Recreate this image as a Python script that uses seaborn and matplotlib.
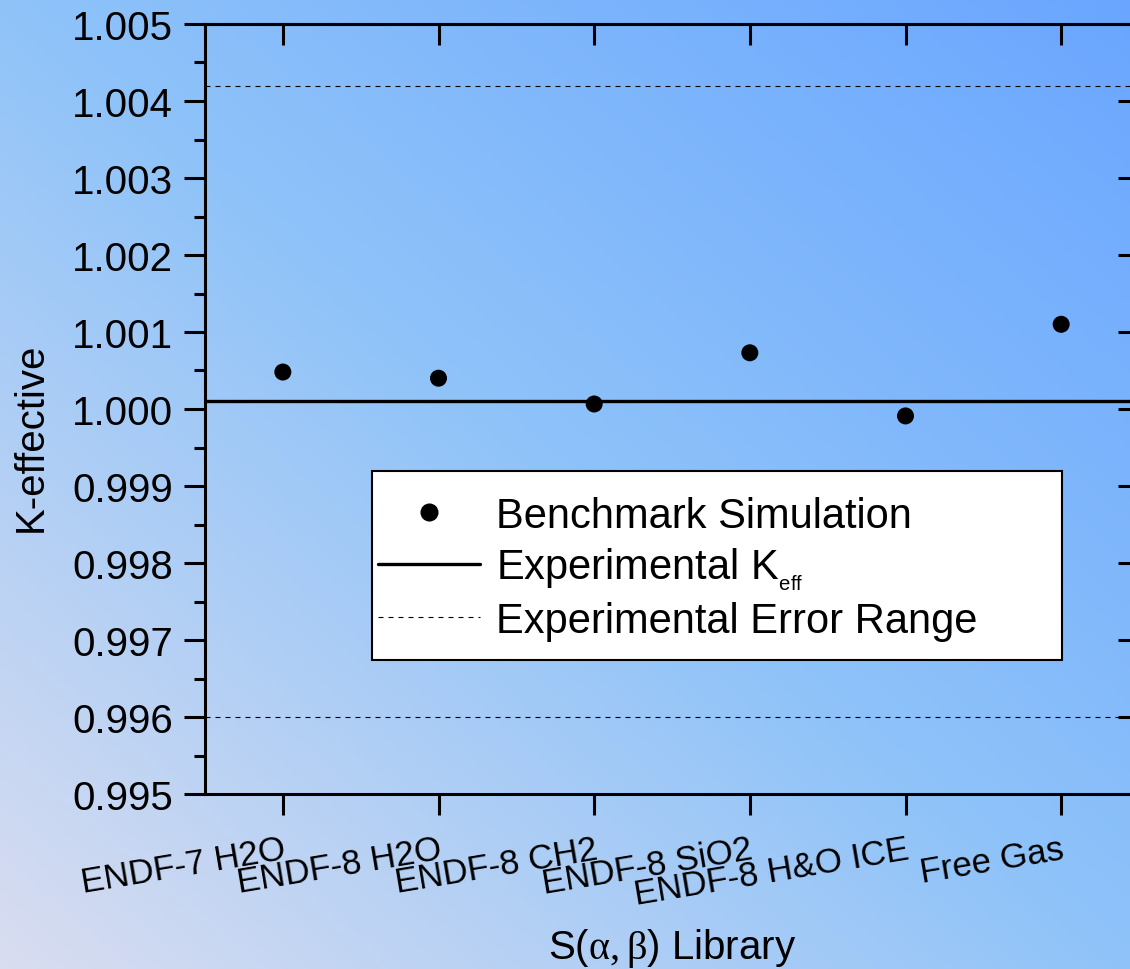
import numpy as np
import pandas as pd
import matplotlib
matplotlib.use("Agg")
import matplotlib.pyplot as plt
from matplotlib.colors import LinearSegmentedColormap
from matplotlib.lines import Line2D
from matplotlib.patches import Rectangle
import seaborn as sns

# ---- data ----
libraries = ["ENDF-7 H2O", "ENDF-8 H2O", "ENDF-8 CH2", "ENDF-8 SiO2",
             "ENDF-8 H&O ICE", "Free Gas"]
keff = [1.00048, 1.00040, 1.000065, 1.00073, 0.99991, 1.00110]
exp_keff = 1.0001
exp_err = 0.0041
yticks = [0.995, 0.996, 0.997, 0.998, 0.999, 1.000, 1.001, 1.002, 1.003, 1.004, 1.005]
ytick_labels = ["0.995", "0.996", "0.997", "0.998", "0.999", "1.000",
                "1.001", "1.002", "1.003", "1.004", "1.005"]
legend_labels = ["Benchmark Simulation", r"Experimental K$_{_\mathregular{eff}}$",
                 "Experimental Error Range"]

sns.set_theme(style="ticks")
plt.rcParams["font.family"] = ["Liberation Sans", "DejaVu Sans"]
plt.rcParams["mathtext.fontset"] = "custom"
plt.rcParams["mathtext.rm"] = "Liberation Sans"
plt.rcParams["mathtext.it"] = "Liberation Sans:italic"
plt.rcParams["mathtext.sf"] = "Liberation Serif"
for k in ["text.color", "axes.labelcolor", "xtick.color", "ytick.color"]:
    plt.rcParams[k] = "black"

fig = plt.figure(figsize=(11.3, 9.7), dpi=100)

# gradient background
bg = fig.add_axes([0, 0, 1, 1], zorder=-10)
nx, ny = 300, 260
xx, yy = np.meshgrid(np.linspace(0, 1, nx), np.linspace(0, 1, ny))
t = (xx + yy) / 2.0  # 0 bottom-left -> 1 top-right
cmap = LinearSegmentedColormap.from_list(
    "bgc", [(0.0, "#d9ddf0"), (0.5, "#8fc3f9"), (1.0, "#6aa6ff")])
bg.imshow(t, cmap=cmap, origin="lower", aspect="auto", extent=[0, 1, 0, 1],
          vmin=0, vmax=1)
bg.set_axis_off()

ax = fig.add_axes([205 / 1130, 175 / 970, 934 / 1130, 770 / 970])
ax.patch.set_alpha(0)

df = pd.DataFrame({"Library": libraries, "keff": keff})
sns.scatterplot(data=df, x="Library", y="keff", ax=ax, color="black", s=150,
                edgecolor="none", zorder=5, legend=False)

ax.axhline(exp_keff, color="black", lw=2.4, zorder=3)
dash = (0, (4.5, 4.5))
ax.axhline(exp_keff + exp_err, color="black", lw=0.8, ls=dash, zorder=3)
ax.axhline(exp_keff - exp_err, color="black", lw=0.8, ls=dash, zorder=3)

ax.set_xlim(-0.5, 5.5)
ax.set_ylim(0.995, 1.005)
ax.set_yticks(yticks)
ax.set_yticklabels(ytick_labels)
ax.set_yticks(np.arange(0.9955, 1.005, 0.001), minor=True)
ax.set_xticks(range(len(libraries)))
ax.set_xticklabels(libraries, rotation=9.5, ha="right", rotation_mode="anchor",
                   fontsize=25)

for sp in ax.spines.values():
    sp.set_linewidth(2.2)
    sp.set_color("black")
    sp.set_visible(True)

ax.tick_params(axis="y", which="major", direction="out", length=15, width=2.2,
               labelsize=29, pad=8, colors="black")
ax.tick_params(axis="y", which="minor", direction="out", length=8, width=2.2)
ax.tick_params(axis="x", which="major", direction="out", length=15, width=2.2,
               pad=12.5, colors="black")
ax.tick_params(axis="x", which="minor", bottom=False)

secy = ax.secondary_yaxis("right")
secy.set_yticks(yticks)
secy.tick_params(direction="in", length=15, width=2.2, labelright=False)
secy.spines["right"].set_linewidth(2.2)
secx = ax.secondary_xaxis("top")
secx.set_xticks(range(len(libraries)))
secx.tick_params(direction="in", length=15, width=2.2, labeltop=False)
secx.spines["top"].set_linewidth(2.2)

ax.set_xlabel(r"S($\mathsf{\alpha,\beta}$) Library", fontsize=29, color="black")
ax.set_ylabel("K-effective", fontsize=29, color="black")
ax.xaxis.set_label_coords(0.5, -0.172)
ax.yaxis.set_label_coords(-0.166, 0.465)

# legend frame
ax.add_patch(Rectangle(((372 - 205) / 934, (795 - 661) / 770),
                       (1062 - 372) / 934, (661 - 472) / 770,
                       transform=ax.transAxes, facecolor="white",
                       edgecolor="black", lw=1.5, zorder=6))

handles = [
    Line2D([], [], ls="none", marker="o", markersize=12, color="black"),
    Line2D([], [], color="black", lw=2.4),
    Line2D([], [], color="black", lw=0.8, ls=dash),
]
leg = ax.legend(handles, legend_labels, loc="upper left",
                bbox_to_anchor=((378 - 205) / 934, (795 - 497) / 770),
                borderaxespad=0, fontsize=30, frameon=False,
                handlelength=2.45, handletextpad=0.38, labelspacing=0.22,
                borderpad=0)
leg.set_zorder(7)

fig.savefig("out.png", dpi=100)
